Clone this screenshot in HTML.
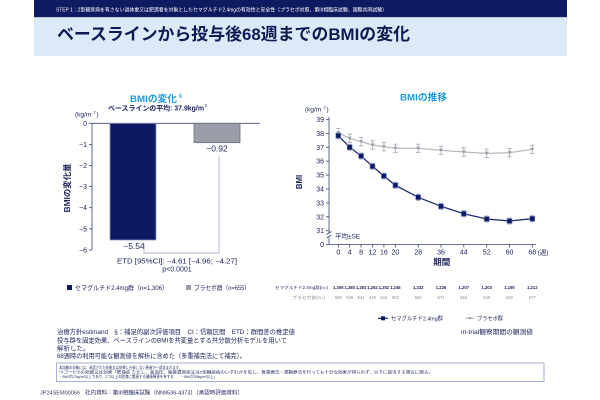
<!DOCTYPE html>
<html><head><meta charset="utf-8"><style>
html,body{margin:0;padding:0;background:#fff;}
svg{display:block;}
text{font-family:"Liberation Sans","Noto Sans CJK JP",sans-serif;}
</style></head><body>
<svg width="600" height="400" viewBox="0 0 600 400" xmlns="http://www.w3.org/2000/svg">
<rect x="0" y="0" width="600" height="400" fill="#fff"/>
<!-- header -->
<rect x="34" y="0" width="533" height="17.3" fill="#0f1b60"/>
<text x="56" y="11.3" font-size="5.2" fill="#fff" textLength="331" lengthAdjust="spacingAndGlyphs">STEP 1：2型糖尿病を有さない過体重又は肥満者を対象としたセマグルチド2.4mgの有効性と安全性（プラセボ対照、第III相臨床試験、国際共同試験）</text>
<rect x="34" y="17.3" width="533" height="38.7" fill="#dce9f7"/>
<text x="57" y="40" font-size="17" font-weight="bold" fill="#101a52" textLength="353" lengthAdjust="spacingAndGlyphs">ベースラインから投与後68週までのBMIの変化</text>

<!-- LEFT CHART -->
<text x="130" y="102" font-size="9.5" font-weight="bold" fill="#1e9ad6" textLength="47" lengthAdjust="spacingAndGlyphs">BMIの変化</text>
<text x="179" y="97.5" font-size="5" font-weight="bold" fill="#1e9ad6">§</text>
<text x="108" y="110.5" font-size="7" font-weight="bold" fill="#1a2258" textLength="96" lengthAdjust="spacingAndGlyphs">ベースラインの平均: 37.9kg/m</text>
<text x="204.5" y="107" font-size="4.5" fill="#1a2258">2</text>
<text x="75" y="116.5" font-size="6.5" fill="#1a2258">(kg/m</text>
<text x="93.5" y="113.5" font-size="4" fill="#1a2258">2</text>
<text x="96.5" y="116.5" font-size="6.5" fill="#1a2258">)</text>

<g stroke="#3a4478" stroke-width="0.8" fill="none">
<line x1="92" y1="123.3" x2="92" y2="250"/>
<line x1="92" y1="123.3" x2="260" y2="123.3"/>
<line x1="89" y1="123.3" x2="92" y2="123.3"/>
<line x1="89" y1="144.4" x2="92" y2="144.4"/>
<line x1="89" y1="165.5" x2="92" y2="165.5"/>
<line x1="89" y1="186.6" x2="92" y2="186.6"/>
<line x1="89" y1="207.7" x2="92" y2="207.7"/>
<line x1="89" y1="228.8" x2="92" y2="228.8"/>
<line x1="89" y1="250" x2="92" y2="250"/>
</g>
<g font-size="7" fill="#1a2258" text-anchor="end">
<text x="87" y="125.8">0</text>
<text x="87" y="146.9">−1</text>
<text x="87" y="168">−2</text>
<text x="87" y="189.1">−3</text>
<text x="87" y="210.2">−4</text>
<text x="87" y="231.3">−5</text>
<text x="87" y="252.5">−6</text>
</g>
<text transform="translate(70,188) rotate(-90)" font-size="8" font-weight="bold" fill="#1a2258" text-anchor="middle" textLength="49" lengthAdjust="spacingAndGlyphs">BMIの変化量</text>

<rect x="110" y="123.3" width="46" height="116.7" fill="#0b1862" stroke="#8e97bf" stroke-width="0.8"/>
<rect x="194" y="123.3" width="46" height="19.4" fill="#9a9ea8" stroke="#6e717b" stroke-width="0.8"/>
<text x="217" y="151.5" font-size="8.5" fill="#1a2258" text-anchor="middle">−0.92</text>
<text x="134" y="249" font-size="8.5" fill="#1a2258" text-anchor="middle">−5.54</text>
<g stroke="#aab2d2" stroke-width="0.9" fill="none">
<polyline points="144,243 144,253 219,253 219,156"/>
</g>
<text x="177" y="263.5" font-size="7" fill="#1a2258" text-anchor="middle" textLength="120" lengthAdjust="spacingAndGlyphs">ETD [95%CI]: −4.61 [−4.96; −4.27]</text>
<text x="177" y="271.5" font-size="7" fill="#1a2258" text-anchor="middle">p&lt;0.0001</text>

<rect x="67" y="285" width="5" height="5" fill="#0b1862"/>
<text x="75" y="290" font-size="6.3" fill="#1a2258" textLength="93" lengthAdjust="spacingAndGlyphs">セマグルチド2.4mg群（n=1,306）</text>
<rect x="186" y="285" width="5" height="5" fill="#9a9ea8"/>
<text x="194" y="290" font-size="6.3" fill="#1a2258" textLength="56" lengthAdjust="spacingAndGlyphs">プラセボ群（n=655）</text>

<!-- RIGHT CHART -->
<text x="400" y="100.5" font-size="9.5" font-weight="bold" fill="#1e9ad6" textLength="47" lengthAdjust="spacingAndGlyphs">BMIの推移</text>
<text x="305" y="111.5" font-size="6.5" fill="#1a2258">(kg/m</text>
<text x="323.5" y="108.5" font-size="4" fill="#1a2258">2</text>
<text x="326.5" y="111.5" font-size="6.5" fill="#1a2258">)</text>

<g stroke="#3a4478" stroke-width="0.8" fill="none">
<line x1="329" y1="117" x2="329" y2="233"/>
<line x1="329" y1="237.5" x2="329" y2="244.5"/>
<line x1="326.5" y1="234.5" x2="331.5" y2="231.5"/>
<line x1="326.5" y1="238" x2="331.5" y2="235"/>
<line x1="329" y1="244.5" x2="536" y2="244.5"/>
<line x1="326" y1="119.5" x2="329" y2="119.5"/>
<line x1="326" y1="133.4" x2="329" y2="133.4"/>
<line x1="326" y1="147.3" x2="329" y2="147.3"/>
<line x1="326" y1="161.2" x2="329" y2="161.2"/>
<line x1="326" y1="175.1" x2="329" y2="175.1"/>
<line x1="326" y1="189" x2="329" y2="189"/>
<line x1="326" y1="202.9" x2="329" y2="202.9"/>
<line x1="326" y1="216.8" x2="329" y2="216.8"/>
<line x1="326" y1="230.7" x2="329" y2="230.7"/>
<line x1="326" y1="244.5" x2="329" y2="244.5"/>
<line x1="338.3" y1="244.5" x2="338.3" y2="247.5"/>
<line x1="349.7" y1="244.5" x2="349.7" y2="247.5"/>
<line x1="361.1" y1="244.5" x2="361.1" y2="247.5"/>
<line x1="372.5" y1="244.5" x2="372.5" y2="247.5"/>
<line x1="383.9" y1="244.5" x2="383.9" y2="247.5"/>
<line x1="395.4" y1="244.5" x2="395.4" y2="247.5"/>
<line x1="418.2" y1="244.5" x2="418.2" y2="247.5"/>
<line x1="441" y1="244.5" x2="441" y2="247.5"/>
<line x1="463.8" y1="244.5" x2="463.8" y2="247.5"/>
<line x1="486.7" y1="244.5" x2="486.7" y2="247.5"/>
<line x1="509.5" y1="244.5" x2="509.5" y2="247.5"/>
<line x1="532.3" y1="244.5" x2="532.3" y2="247.5"/>
</g>
<g font-size="7" fill="#1a2258" text-anchor="end">
<text x="324" y="122">39</text>
<text x="324" y="135.9">38</text>
<text x="324" y="149.8">37</text>
<text x="324" y="163.7">36</text>
<text x="324" y="177.6">35</text>
<text x="324" y="191.5">34</text>
<text x="324" y="205.4">33</text>
<text x="324" y="219.3">32</text>
<text x="324" y="233.2">31</text>
<text x="324" y="247">0</text>
</g>
<text transform="translate(302,182) rotate(-90)" font-size="7.8" font-weight="bold" fill="#1a2258" text-anchor="middle">BMI</text>
<text x="335" y="238.3" font-size="6.5" fill="#1a2258">平均±SE</text>
<g font-size="7" fill="#1a2258" text-anchor="middle">
<text x="338.3" y="254.5">0</text>
<text x="349.7" y="254.5">4</text>
<text x="361.1" y="254.5">8</text>
<text x="372.5" y="254.5">12</text>
<text x="383.9" y="254.5">16</text>
<text x="395.4" y="254.5">20</text>
<text x="418.2" y="254.5">28</text>
<text x="441" y="254.5">36</text>
<text x="463.8" y="254.5">44</text>
<text x="486.7" y="254.5">52</text>
<text x="509.5" y="254.5">60</text>
<text x="532.3" y="254.5">68</text>
</g>
<text x="543" y="254.5" font-size="6.5" fill="#1a2258" text-anchor="middle">(週)</text>
<text x="441.7" y="265" font-size="8.5" font-weight="bold" fill="#1a2258" text-anchor="middle">期間</text>

<!-- placebo series -->
<polyline fill="none" stroke="#b3b5bd" stroke-width="1.2" points="338.3,132.7 349.7,138.3 361.1,141.7 372.5,145 383.9,146.7 395.4,148.3 418.2,148.3 441,150.3 463.8,152 486.7,153.3 509.5,152.7 532.3,149.3"/>
<g stroke="#a3a6ae" stroke-width="0.8" fill="none">
<path d="M338.3,128.5V136.9M336,128.5h4.6M336,136.9h4.6"/>
<path d="M349.7,134.1V142.5M347.4,134.1h4.6M347.4,142.5h4.6"/>
<path d="M361.1,137.5V145.9M358.8,137.5h4.6M358.8,145.9h4.6"/>
<path d="M372.5,140.8V149.2M370.2,140.8h4.6M370.2,149.2h4.6"/>
<path d="M383.9,142.5V150.9M381.6,142.5h4.6M381.6,150.9h4.6"/>
<path d="M395.4,144.1V152.5M393.1,144.1h4.6M393.1,152.5h4.6"/>
<path d="M418.2,144.1V152.5M415.9,144.1h4.6M415.9,152.5h4.6"/>
<path d="M441,146.1V154.5M438.7,146.1h4.6M438.7,154.5h4.6"/>
<path d="M463.8,147.8V156.2M461.5,147.8h4.6M461.5,156.2h4.6"/>
<path d="M486.7,149.1V157.5M484.4,149.1h4.6M484.4,157.5h4.6"/>
<path d="M509.5,148.5V156.9M507.2,148.5h4.6M507.2,156.9h4.6"/>
<path d="M532.3,145.1V153.5M530,145.1h4.6M530,153.5h4.6"/>
</g>
<g fill="#9a9da6">
<path d="M336.3,131.2h4l-2,3.2z"/>
<path d="M347.7,136.8h4l-2,3.2z"/>
<path d="M359.1,140.2h4l-2,3.2z"/>
<path d="M370.5,143.5h4l-2,3.2z"/>
<path d="M381.9,145.2h4l-2,3.2z"/>
<path d="M393.4,146.8h4l-2,3.2z"/>
<path d="M416.2,146.8h4l-2,3.2z"/>
<path d="M439,148.8h4l-2,3.2z"/>
<path d="M461.8,150.5h4l-2,3.2z"/>
<path d="M484.7,151.8h4l-2,3.2z"/>
<path d="M507.5,151.2h4l-2,3.2z"/>
<path d="M530.3,147.8h4l-2,3.2z"/>
</g>

<!-- semaglutide series -->
<polyline fill="none" stroke="#1f2b72" stroke-width="1.3" points="338.3,135.7 349.7,147.3 361.1,156 372.5,166.3 383.9,176 395.4,185.3 418.2,197.3 441,206.3 463.8,213.7 486.7,219 509.5,221 532.3,218.7"/>
<g stroke="#9aa3c8" stroke-width="0.7" fill="none">
<path d="M336.3,132.5h4M336.3,138.9h4"/>
<path d="M347.7,144.1h4M347.7,150.5h4"/>
<path d="M359.1,152.8h4M359.1,159.2h4"/>
<path d="M370.5,163.1h4M370.5,169.5h4"/>
<path d="M381.9,172.8h4M381.9,179.2h4"/>
<path d="M393.4,182.1h4M393.4,188.5h4"/>
<path d="M416.2,194.1h4M416.2,200.5h4"/>
<path d="M439,203.1h4M439,209.5h4"/>
<path d="M461.8,210.5h4M461.8,216.9h4"/>
<path d="M484.7,215.8h4M484.7,222.2h4"/>
<path d="M507.5,217.8h4M507.5,224.2h4"/>
<path d="M530.3,215.5h4M530.3,221.9h4"/>
</g>
<g fill="#0b1862" stroke="#7f8abb" stroke-width="0.6">
<rect x="335.8" y="133.2" width="5" height="5"/>
<rect x="347.2" y="144.8" width="5" height="5"/>
<rect x="358.6" y="153.5" width="5" height="5"/>
<rect x="370" y="163.8" width="5" height="5"/>
<rect x="381.4" y="173.5" width="5" height="5"/>
<rect x="392.9" y="182.8" width="5" height="5"/>
<rect x="415.7" y="194.8" width="5" height="5"/>
<rect x="438.5" y="203.8" width="5" height="5"/>
<rect x="461.3" y="211.2" width="5" height="5"/>
<rect x="484.2" y="216.5" width="5" height="5"/>
<rect x="507" y="218.5" width="5" height="5"/>
<rect x="529.8" y="216.2" width="5" height="5"/>
</g>

<!-- number table -->
<text x="328" y="288.8" font-size="4.2" fill="#1a2258" text-anchor="end" textLength="53" lengthAdjust="spacingAndGlyphs">セマグルチド2.4mg群(n=)</text>
<text x="325" y="298.8" font-size="4.2" fill="#8a8d96" text-anchor="end" textLength="33" lengthAdjust="spacingAndGlyphs">プラセボ群(n=)</text>
<g font-size="4.2" fill="#1a2258" text-anchor="middle" font-weight="bold">
<text x="338.3" y="288.8">1,306</text>
<text x="349.7" y="288.8">1,280</text>
<text x="361.1" y="288.8">1,281</text>
<text x="372.5" y="288.8">1,262</text>
<text x="383.9" y="288.8">1,252</text>
<text x="395.4" y="288.8">1,246</text>
<text x="418.2" y="288.8">1,232</text>
<text x="441" y="288.8">1,226</text>
<text x="463.8" y="288.8">1,207</text>
<text x="486.7" y="288.8">1,203</text>
<text x="509.5" y="288.8">1,190</text>
<text x="532.3" y="288.8">1,212</text>
</g>
<g font-size="4.2" fill="#8a8d96" text-anchor="middle">
<text x="338.3" y="298.8">655</text>
<text x="349.7" y="298.8">649</text>
<text x="361.1" y="298.8">641</text>
<text x="372.5" y="298.8">619</text>
<text x="383.9" y="298.8">615</text>
<text x="395.4" y="298.8">603</text>
<text x="418.2" y="298.8">592</text>
<text x="441" y="298.8">571</text>
<text x="463.8" y="298.8">554</text>
<text x="486.7" y="298.8">549</text>
<text x="509.5" y="298.8">540</text>
<text x="532.3" y="298.8">577</text>
</g>

<!-- right legend -->
<line x1="378" y1="318.3" x2="388" y2="318.3" stroke="#1f2b72" stroke-width="1.2"/>
<rect x="381" y="316.3" width="4" height="4" fill="#0b1862"/>
<text x="391" y="320.3" font-size="5.6" fill="#1a2258" textLength="52" lengthAdjust="spacingAndGlyphs">セマグルチド2.4mg群</text>
<line x1="466" y1="318.3" x2="474" y2="318.3" stroke="#a3a6ae" stroke-width="1"/>
<path d="M468.5,317h3l-1.5,2.5z" fill="#9a9da6"/>
<text x="477" y="320.3" font-size="5.6" fill="#1a2258" textLength="26" lengthAdjust="spacingAndGlyphs">プラセボ群</text>
<text x="461" y="334" font-size="6.5" fill="#1a2258" textLength="72" lengthAdjust="spacingAndGlyphs">in-trial観察期間の観測値</text>

<!-- footnotes -->
<g font-size="6.5" fill="#1a2258">
<text x="57" y="334" textLength="238" lengthAdjust="spacingAndGlyphs">治療方針estimand　§：補足的副次評価項目　CI：信頼区間　ETD：群間差の推定値</text>
<text x="57" y="342.3" textLength="230" lengthAdjust="spacingAndGlyphs">投与群を固定効果、ベースラインのBMIを共変量とする共分散分析モデルを用いて</text>
<text x="57" y="350.5">解析した。</text>
<text x="57" y="358" textLength="189" lengthAdjust="spacingAndGlyphs">68週時の利用可能な観測値を解析に含めた（多重補完法にて補完）。</text>
</g>
<rect x="56.5" y="363" width="487.5" height="18.5" fill="#fff" stroke="#9ba6cc" stroke-width="0.9"/>
<g font-size="3.8" fill="#1a2258">
<text x="59" y="368.8" textLength="123" lengthAdjust="spacingAndGlyphs">本試験の対象には、承認された効能又は効果に合致しない患者が一部含まれます。</text>
<text x="59" y="373.3" textLength="374" lengthAdjust="spacingAndGlyphs">ウゴービ®の効能又は効果「肥満症 ただし、高血圧、脂質異常症又は2型糖尿病のいずれかを有し、食事療法・運動療法を行っても十分な効果が得られず、以下に該当する場合に限る。</text>
<text x="59" y="377.8" textLength="158" lengthAdjust="spacingAndGlyphs">・BMIが27kg/m²以上であり、2つ以上の肥満に関連する健康障害を有する　　・BMIが35kg/m²以上」</text>
</g>

<!-- bottom -->
<text x="40" y="394.5" font-size="5" fill="#333a5a" textLength="40" lengthAdjust="spacingAndGlyphs">JP24SEM00066</text>
<text x="85" y="394.5" font-size="5.5" fill="#1a2258" textLength="158" lengthAdjust="spacingAndGlyphs">社内資料：第III相臨床試験（NN9536-4373）（承認時評価資料）</text>
</svg>
</body></html>
